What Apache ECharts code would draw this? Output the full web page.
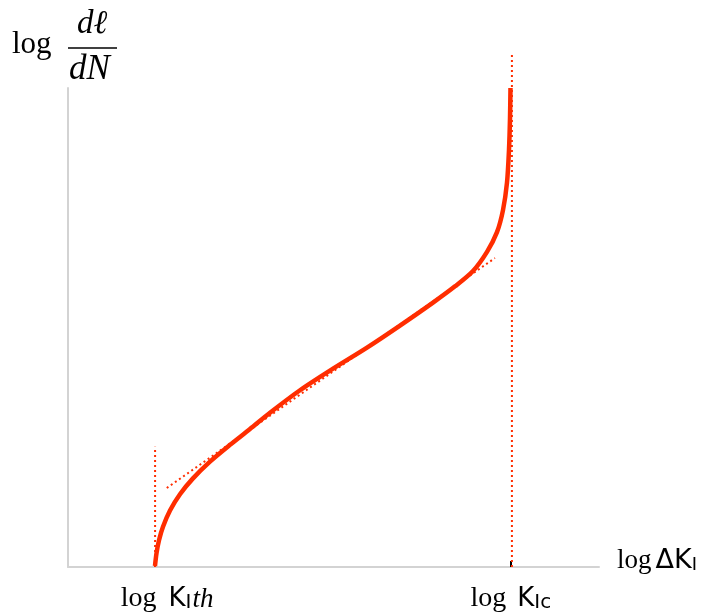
<!DOCTYPE html>
<html>
<head>
<meta charset="utf-8">
<script src="https://cdn.jsdelivr.net/npm/echarts@6/dist/echarts.min.js"></script>
<style>
  html, body { margin: 0; padding: 0; background: #fff; }
  #myChart { width: 726px; height: 616px; }
</style>
</head>
<body>
<div id="myChart"></div>
<script>
// crack growth curve (axis units 0..100)
var curveX = [16.38, 16.67, 17.14, 17.89, 19.21, 21.09, 23.54, 26.74, 30.51, 34.27, 38.04, 43.69, 49.91, 56.31, 62.52, 68.74, 72.88, 76.27, 78.91, 80.79, 81.92, 82.67, 83.05, 83.24, 83.33];
var curveY = [0.2, 2.9, 5.6, 8.4, 11.8, 15.2, 18.5, 22.0, 25.5, 28.8, 32.2, 36.9, 41.4, 45.8, 50.4, 55.2, 58.6, 61.8, 65.8, 69.9, 74.5, 80.2, 87.1, 93.7, 100];
// Paris-law tangent (dotted)
var tangentX = [18.6, 80.4];
var tangentY = [16.5, 64.5];
// thresholds
var thX = [16.4, 16.4];
var thY = [0, 25.1];
var icX = [83.6, 83.6];
var icY = [0, 107.5];
var tickValues = [16.4, 83.4];
var tickLabels = ['{lg0|log}{k|K}{sub|I}{it|th}', '{lg|log}{k|K}{sub|Ic}'];

function pairs(xs, ys) {
  var out = [];
  for (var i = 0; i < xs.length; i++) out.push([xs[i], ys[i]]);
  return out;
}

var red = '#ff2d00';
var myChart = echarts.init(document.getElementById('myChart'));
myChart.setOption({
  animation: false,
  backgroundColor: '#fff',
  grid: { left: 68, right: 127, top: 88, bottom: 49 },
  xAxis: {
    type: 'value',
    min: 0,
    max: 100,
    name: '{lg|log}{d|Δ}{k|K}{sub|I}',
    nameLocation: 'end',
    nameGap: 18,
    nameTextStyle: {
      padding: [0, 0, 12, 0],
      rich: {
        lg: { fontFamily: 'Liberation Serif', fontSize: 27, color: '#000', padding: [0, 4, 0, 0] },
        d: { fontFamily: 'DejaVu Sans', fontSize: 27, color: '#000' },
        k: { fontFamily: 'DejaVu Sans', fontSize: 27, color: '#000' },
        sub: { fontFamily: 'DejaVu Sans', fontSize: 18, color: '#000', verticalAlign: 'bottom', lineHeight: 14 }
      }
    },
    axisLine: { lineStyle: { color: '#d3d3d3', width: 2 } },
    splitLine: { show: false },
    axisTick: {
      customValues: tickValues,
      inside: true,
      length: 6,
      lineStyle: { color: '#000', width: 2 }
    },
    axisLabel: {
      customValues: tickValues,
      margin: 18,
      formatter: function (v) {
        return v === tickValues[0] ? tickLabels[0] : tickLabels[1];
      },
      rich: {
        lg0: { fontFamily: 'Liberation Serif', fontSize: 28, color: '#000', padding: [0, 12, 0, 24] },
        lg: { fontFamily: 'Liberation Serif', fontSize: 28, color: '#000', padding: [0, 11, 0, 0] },
        k: { fontFamily: 'DejaVu Sans', fontSize: 26, color: '#000' },
        sub: { fontFamily: 'DejaVu Sans', fontSize: 20, color: '#000', verticalAlign: 'bottom', lineHeight: 12 },
        it: { fontFamily: 'Liberation Serif', fontStyle: 'italic', fontSize: 27, color: '#000', verticalAlign: 'bottom', lineHeight: 14, padding: [0, 0, 0, 1] }
      }
    }
  },
  yAxis: {
    type: 'value',
    min: 0,
    max: 100,
    axisLine: { show: true, lineStyle: { color: '#d3d3d3', width: 2 } },
    axisTick: { show: false },
    axisLabel: { show: false },
    splitLine: { show: false }
  },
  graphic: [
    { type: 'text', left: 12, top: 29, style: { text: 'log', font: '31px "Liberation Serif"', fill: '#000' } },
    { type: 'text', left: 77, top: 8, style: { text: 'dℓ', font: 'italic 33px "Liberation Serif"', fill: '#000' } },
    { type: 'line', shape: { x1: 68, y1: 48, x2: 117, y2: 48 }, style: { stroke: '#000', lineWidth: 1.5 } },
    { type: 'text', left: 69, top: 52, style: { text: 'dN', font: 'italic 35px "Liberation Serif"', fill: '#000' } }
  ],
  series: [
    {
      type: 'line', data: pairs(thX, thY), symbol: 'none', clip: false,
      lineStyle: { color: red, width: 2, type: [2, 3] }
    },
    {
      type: 'line', data: pairs(icX, icY), symbol: 'none', clip: false,
      lineStyle: { color: red, width: 2, type: [2, 3] }
    },
    {
      type: 'line', data: pairs(tangentX, tangentY), symbol: 'none', clip: false,
      lineStyle: { color: red, width: 2, type: [2, 3] }
    },
    {
      type: 'line', data: pairs(curveX, curveY), symbol: 'none', smooth: 0.3, clip: false,
      lineStyle: { color: red, width: 4.5 }
    }
  ]
});
</script>
</body>
</html>
